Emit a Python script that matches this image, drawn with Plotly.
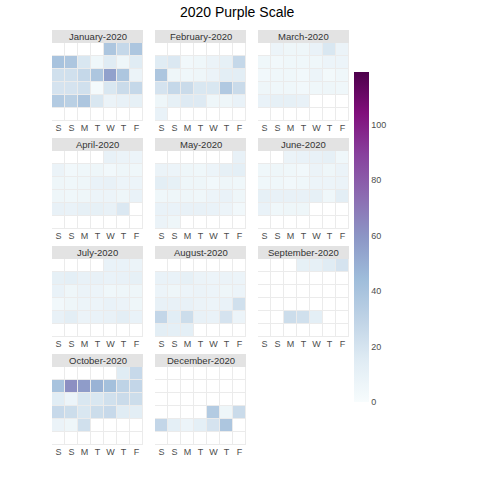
import datetime
import math
import plotly.graph_objects as go

year = 2020
month_names = ["January", "February", "March", "April", "May", "June",
               "July", "August", "September", "October", "December"]
month_nums = [1, 2, 3, 4, 5, 6, 7, 8, 9, 10, 12]
weekday_labels = ["S", "S", "M", "T", "W", "T", "F"]

jan = [38, 27, 38, 40, 38, 18, 5, 15, 6, 15, 22, 22, 27, 38, 55, 38, 8,
       20, 20, 22, 2, 18, 25, 27, 35, 32, 38, 18, 8, 10, 11]
feb = [15, 17, 4, 5, 8, 11, 27, 38, 6, 5, 6, 8, 13, 13, 20, 27, 25, 18, 18, 36, 25,
       6, 11, 16, 16, 6, 6, 9, 9]
mar = [7, 6, 6, 9, 18, 8, 5, 4, 5, 5, 5, 7, 7, 4, 5, 5, 4, 7, 3, 5,
       6, 5, 5, 4, 5, 6, 5, 9, 11, 11, 10]
apr = [10, 8, 7, 8, 4, 5, 6, 4, 6, 5, 6, 5, 6, 9, 10, 7, 7, 6, 5, 6, 7, 7, 6, 9,
       10, 9, 11, 11, 10, 17]
may = [10, 8, 7, 6, 5, 7, 11, 12, 13, 11, 6, 6, 4, 6, 5, 5, 6, 6, 5, 7, 9, 6,
       9, 9, 10, 10, 9, 7, 4, 8, 6]
jun = [8, 9, 10, 11, 5, 5, 6, 5, 4, 8, 6, 8, 5, 5, 4, 5, 7, 7, 8,
       11, 10, 10, 10, 11, 5, 13, 9, 5, 6, 6]
jul = [9, 9, 8, 11, 12, 10, 10, 9, 10, 11, 9, 6, 8, 7, 5, 6, 6,
       4, 6, 7, 7, 9, 8, 6, 10, 13, 8, 9, 10, 13, 9]
aug = [9, 9, 11, 8, 7, 8, 7, 7, 6, 7, 8, 7, 6, 7, 10, 10, 10, 8, 7, 9, 22,
       28, 14, 24, 10, 9, 20, 7, 13, 12, 12]
sep = [11, 11, 15, 20] + [None] * 23 + [24, 22, 12]
oct_ = [15, 26, 40, 62, 57, 48, 42, 30, 28, 14, 7, 18, 18, 22, 25, 24,
        26, 24, 18, 24, 26, 15, 13, 8, 6, 22] + [None] * 5
dec = [None] * 22 + [35, 6, 25, 28, 12, 7, 12, 20, 38]
values = [jan, feb, mar, apr, may, jun, jul, aug, sep, oct_, dec]

zmax = 119
bupu = [[0.0, "#f7fcfd"], [0.125, "#e0ecf4"], [0.25, "#bfd3e6"], [0.375, "#9ebcda"],
        [0.5, "#8c96c6"], [0.625, "#8c6bb1"], [0.75, "#88419d"], [0.875, "#810f7c"],
        [1.0, "#4d004b"]]

W = H = 480
col_x0 = [52, 155, 258]
panel_w = 91
row_top0 = 30
row_step = 108
strip_h = 13
panel_h = 78

fig = go.Figure()
shapes = []
annotations = []
layout_axes = {}

for i, (mname, mnum, vals) in enumerate(zip(month_names, month_nums, values)):
    r, c = divmod(i, 3)
    first = datetime.date(year, mnum, 1)
    wd_first = (first.weekday() + 1) % 7 + 1  # Sun=1..Sat=7
    xs, ys, zs = [], [], []
    for d, v in enumerate(vals, start=1):
        dt = datetime.date(year, mnum, d)
        col = (dt.weekday() + 2) % 7 + 1  # Sat=1 ... Fri=7
        row = math.ceil((d + wd_first) / 7)
        xs.append(col)
        ys.append(row)
        zs.append(v)
    idx = "" if i == 0 else str(i + 1)
    x0 = col_x0[c]
    st = row_top0 + row_step * r
    ptop = st + strip_h
    pbot = ptop + panel_h
    xd = [x0 / W, (x0 + panel_w) / W]
    yd = [1 - pbot / H, 1 - ptop / H]
    layout_axes["xaxis" + idx] = dict(
        domain=xd, anchor="y" + idx, range=[0.5, 7.5], tickvals=list(range(1, 8)),
        ticktext=weekday_labels, showgrid=False, zeroline=False, ticks="",
        tickfont=dict(size=9, color="#4d4d4d", family="Liberation Sans, Arial"),
        fixedrange=True)
    layout_axes["yaxis" + idx] = dict(
        domain=yd, anchor="x" + idx, range=[6.5, 0.5], showgrid=False, zeroline=False,
        showticklabels=False, ticks="", fixedrange=True)
    # white base for empty calendar cells
    fig.add_trace(go.Heatmap(
        x=[cx for cy in range(1, 7) for cx in range(1, 8)],
        y=[cy for cy in range(1, 7) for cx in range(1, 8)],
        z=[0] * 42, colorscale=[[0, "white"], [1, "white"]], showscale=False,
        xgap=1, ygap=1, hoverinfo="skip", xaxis="x" + idx, yaxis="y" + idx))
    fig.add_trace(go.Heatmap(
        x=xs, y=ys, z=zs, coloraxis="coloraxis", xgap=1, ygap=1,
        xaxis="x" + idx, yaxis="y" + idx, name=mname))
    shapes.append(dict(type="rect", xref="paper", yref="paper",
                       x0=x0 / W, x1=(x0 + panel_w) / W,
                       y0=1 - ptop / H, y1=1 - st / H,
                       fillcolor="#e3e3e3", line=dict(width=0), layer="below"))
    annotations.append(dict(text=f"{mname}-{year}", xref="paper", yref="paper",
                            x=(x0 + panel_w / 2) / W, y=1 - (st + strip_h / 2) / H,
                            showarrow=False, xanchor="center", yanchor="middle",
                            font=dict(size=9.5, color="#333333", family="Liberation Sans, Arial")))

fig.update_layout(
    width=W, height=H, margin=dict(l=0, r=0, t=0, b=0),
    paper_bgcolor="white", plot_bgcolor="#ebebeb",
    title=dict(text="2020 Purple Scale", x=0.494, xanchor="center", y=1 - 12 / H,
               yanchor="middle", font=dict(size=14, color="black", family="Liberation Sans, Arial")),
    coloraxis=dict(
        colorscale=bupu, cmin=0, cmax=zmax,
        colorbar=dict(thickness=15, len=330 / H, lenmode="fraction",
                      x=354 / W, xanchor="left", xpad=0, ypad=0,
                      y=1 - 237 / H, yanchor="middle", outlinewidth=0,
                      tickvals=[0, 20, 40, 60, 80, 100], ticks="",
                      tickfont=dict(size=9, color="#4d4d4d", family="Liberation Sans, Arial"))),
    shapes=shapes, annotations=annotations, showlegend=False,
    **layout_axes)

fig.write_html("out.html")
